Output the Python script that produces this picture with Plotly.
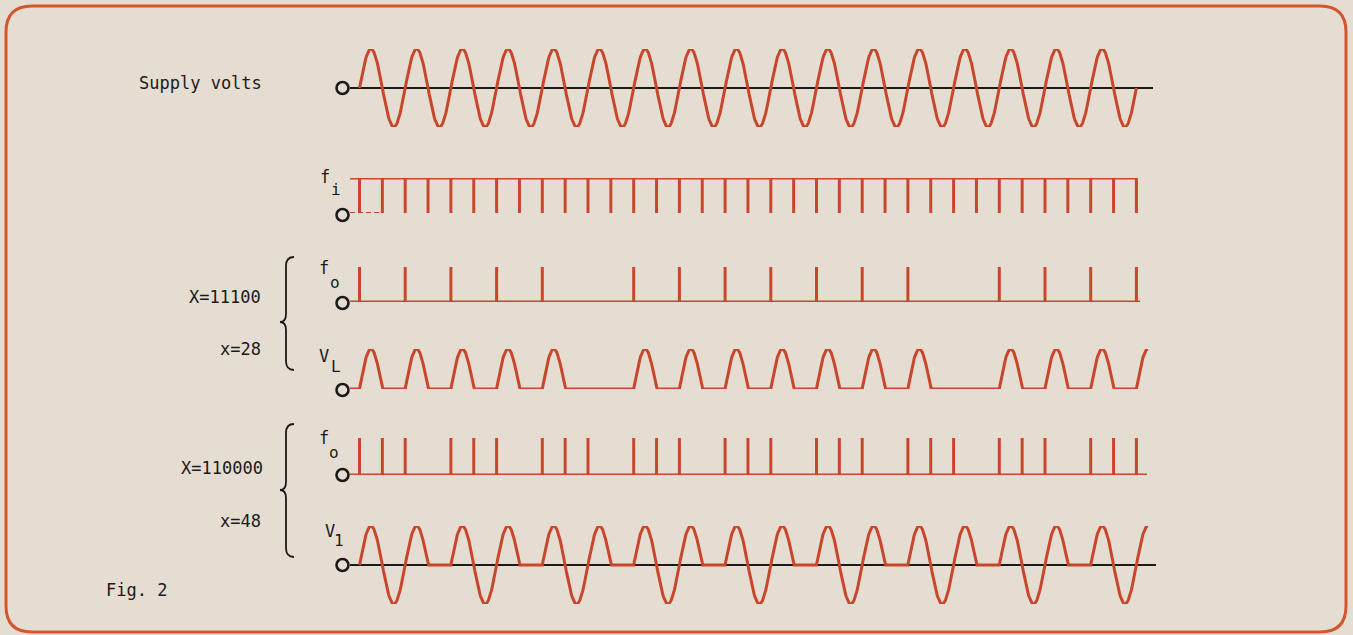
import numpy as np
import plotly.graph_objects as go

W, H = 1353, 635

# ---------------- data ----------------
# one entry per half-cycle of the supply (index 0..33), sign = lobe polarity
supply_lobes = [1, -1, 1, -1, 1, -1, 1, -1, 1, -1, 1, -1, 1, -1, 1, -1, 1,
                -1, 1, -1, 1, -1, 1, -1, 1, -1, 1, -1, 1, -1, 1, -1, 1, -1]
# input pulse train f_i : a pulse at every zero crossing (index 0..34)
fi_pulses = [1, 1, 1, 1, 1, 1, 1, 1, 1, 1, 1, 1, 1, 1, 1, 1, 1, 1,
             1, 1, 1, 1, 1, 1, 1, 1, 1, 1, 1, 1, 1, 1, 1, 1, 1]
# X = 11100, x = 28 : output trigger pulses f_o (per zero crossing)
fo1_pulses = [1, 0, 1, 0, 1, 0, 1, 0, 1, 0, 0, 0, 1, 0, 1, 0, 1, 0, 1, 0, 1,
              0, 1, 0, 1, 0, 0, 0, 1, 0, 1, 0, 1, 0, 1]
# load voltage V_L lobes (index 34 is the partial lobe at the right end)
vl_lobes = [1, 0, 1, 0, 1, 0, 1, 0, 1, 0, 0, 0, 1, 0, 1, 0, 1, 0, 1, 0, 1,
            0, 1, 0, 1, 0, 0, 0, 1, 0, 1, 0, 1, 0, 1]
# X = 110000, x = 48 : output trigger pulses f_o
fo2_pulses = [1, 1, 1, 0, 1, 1, 1, 0, 1, 1, 1, 0, 1, 1, 1, 0, 1, 1, 1, 0, 1,
              1, 1, 0, 1, 1, 1, 0, 1, 1, 1, 0, 1, 1, 1]
# load voltage V_1 lobes
v1_lobes = [1, -1, 1, 0, 1, -1, 1, 0, 1, -1, 1, 0, 1, -1, 1, 0, 1, -1, 1, 0,
            1, -1, 1, 0, 1, -1, 1, 0, 1, -1, 1, 0, 1, -1, 1]

row_labels = ["Supply volts", "X=11100", "x=28", "X=110000", "x=48", "Fig. 2"]
sig_main = ["f", "f", "V", "f", "V"]
sig_sub = ["i", "o", "L", "o", "1"]

# ---------------- style ----------------
RED = "#c8462b"
INK = "#1c1a18"
BG = "#e6ddd2"
BORDER = "#d4562e"
FONT = "DejaVu Sans Mono"

T0_PX, T_PX = 359.5, 22.85          # pixel of t=0, pixels per half-cycle
x_range = [-T0_PX / T_PX, (W - T0_PX) / T_PX]


def tpx(px):
    return (px - T0_PX) / T_PX


def dom(px_bottom, px_top):
    return [1 - px_bottom / H, 1 - px_top / H]


def lobes_xy(lobes, last_partial=False):
    xs, ys = [], []
    s = np.linspace(0, 1, 41)
    for i, a in enumerate(lobes):
        ss = s[:21] if (last_partial and i == len(lobes) - 1) else s
        xs.extend(list(i + ss))
        ys.extend(list(a * np.sin(np.pi * ss)))
    return xs, ys


def pulses_xy(pulses):
    xs, ys = [], []
    for i, p in enumerate(pulses):
        if p:
            xs += [i, i, None]
            ys += [0, 1, None]
    return xs, ys


fig = go.Figure()
LW = 3

# Row 1: supply
sx, sy = lobes_xy(supply_lobes)
fig.add_trace(go.Scatter(x=[tpx(350), tpx(1153)], y=[0, 0], mode="lines",
                         line=dict(color=INK, width=1.8), yaxis="y"))
fig.add_trace(go.Scatter(x=sx, y=sy, mode="lines", line=dict(color=RED, width=LW), yaxis="y"))

# Row 2: f_i
px_, py_ = pulses_xy(fi_pulses)
fig.add_trace(go.Scatter(x=[tpx(350), len(fi_pulses) - 1], y=[1, 1], mode="lines",
                         line=dict(color=RED, width=LW), yaxis="y2"))
fig.add_trace(go.Scatter(x=px_, y=py_, mode="lines", line=dict(color=RED, width=LW), yaxis="y2"))
fig.add_trace(go.Scatter(x=[tpx(350), 1], y=[0, 0], mode="lines",
                         line=dict(color=RED, width=2, dash="5px,3px"), yaxis="y2"))

# Row 3: f_o (X=11100)
px_, py_ = pulses_xy(fo1_pulses)
fig.add_trace(go.Scatter(x=[tpx(350), tpx(1140)], y=[0, 0], mode="lines",
                         line=dict(color=RED, width=LW), yaxis="y3"))
fig.add_trace(go.Scatter(x=px_, y=py_, mode="lines", line=dict(color=RED, width=LW), yaxis="y3"))

# Row 4: V_L
vx, vy = lobes_xy(vl_lobes, last_partial=True)
fig.add_trace(go.Scatter(x=[tpx(350)] + vx, y=[0] + vy, mode="lines",
                         line=dict(color=RED, width=LW), yaxis="y4"))

# Row 5: f_o (X=110000)
px_, py_ = pulses_xy(fo2_pulses)
fig.add_trace(go.Scatter(x=[tpx(350), tpx(1147)], y=[0, 0], mode="lines",
                         line=dict(color=RED, width=LW), yaxis="y5"))
fig.add_trace(go.Scatter(x=px_, y=py_, mode="lines", line=dict(color=RED, width=LW), yaxis="y5"))

# Row 6: V_1
vx, vy = lobes_xy(v1_lobes, last_partial=True)
fig.add_trace(go.Scatter(x=[tpx(350), tpx(1156)], y=[0, 0], mode="lines",
                         line=dict(color=INK, width=1.8), yaxis="y6"))
fig.add_trace(go.Scatter(x=vx, y=vy, mode="lines", line=dict(color=RED, width=LW), yaxis="y6"))

ax_common = dict(visible=False, showgrid=False, zeroline=False, fixedrange=True)
fig.update_layout(
    width=W, height=H,
    margin=dict(l=0, r=0, t=0, b=0),
    paper_bgcolor=BG, plot_bgcolor=BG,
    showlegend=False,
    xaxis=dict(range=x_range, domain=[0, 1], **ax_common),
    yaxis=dict(range=[-1, 1], domain=dom(127, 49), anchor="x", **ax_common),
    yaxis2=dict(range=[0, 1], domain=dom(213, 178), anchor="x", **ax_common),
    yaxis3=dict(range=[0, 1], domain=dom(302, 267), anchor="x", **ax_common),
    yaxis4=dict(range=[0, 1], domain=dom(389, 349), anchor="x", **ax_common),
    yaxis5=dict(range=[0, 1], domain=dom(475, 438), anchor="x", **ax_common),
    yaxis6=dict(range=[-1, 1], domain=dom(604, 526), anchor="x", **ax_common),
)


def P(x, y):
    return x / W, 1 - y / H


shapes = []
# open terminal circles
for cy in [88, 215, 303, 390, 475, 565]:
    x0, y0 = P(336.5, cy + 6)
    x1, y1 = P(348.5, cy - 6)
    shapes.append(dict(type="circle", xref="paper", yref="paper", x0=x0, y0=y0, x1=x1, y1=y1,
                       line=dict(color=INK, width=2.6), fillcolor=BG, layer="above"))


def path_str(pts):
    s = ""
    for cmd, ps in pts:
        s += cmd + " " + " ".join("%.5f,%.5f" % P(*p) for p in ps) + " "
    return s.strip()


def brace(top, mid, bot, xr=294, xv=286, xm=280):
    return path_str([
        ("M", [(xr, top)]),
        ("Q", [(xv, top), (xv, top + 9)]),
        ("L", [(xv, mid - 8)]),
        ("Q", [(xv, mid), (xm, mid)]),
        ("Q", [(xv, mid), (xv, mid + 8)]),
        ("L", [(xv, bot - 9)]),
        ("Q", [(xv, bot), (xr, bot)]),
    ])


for top, mid, bot in [(257, 322, 370), (424, 490, 557)]:
    shapes.append(dict(type="path", xref="paper", yref="paper", path=brace(top, mid, bot),
                       line=dict(color=INK, width=1.8)))


def rrect(x0, y0, x1, y1, r):
    return path_str([("M", [(x0 + r, y0)]), ("L", [(x1 - r, y0)]), ("Q", [(x1, y0), (x1, y0 + r)]),
                     ("L", [(x1, y1 - r)]), ("Q", [(x1, y1), (x1 - r, y1)]), ("L", [(x0 + r, y1)]),
                     ("Q", [(x0, y1), (x0, y1 - r)]), ("L", [(x0, y0 + r)]),
                     ("Q", [(x0, y0), (x0 + r, y0)])]) + " Z"


shapes.append(dict(type="path", xref="paper", yref="paper", path=rrect(6, 6, 1346, 632, 26),
                   line=dict(color=BORDER, width=3)))
fig.update_layout(shapes=shapes)

ann = []
fs = 17


def add_text(txt, x, y, xanchor, size=fs):
    ax_, ay_ = P(x, y)
    ann.append(dict(text=txt, x=ax_, y=ay_, xref="paper", yref="paper", xanchor=xanchor,
                    yanchor="middle", showarrow=False, font=dict(family=FONT, size=size, color=INK)))


left_pos = [(264, 83), (263, 297), (263, 349), (265, 468), (263, 521)]
for txt, (x, y) in zip(row_labels[:5], left_pos):
    add_text(txt, x, y, "right")
add_text(row_labels[5], 104, 590, "left")

main_pos = [(325, 177), (324, 268), (324, 356), (324, 438), (330, 531)]
sub_pos = [(336, 189), (335, 282), (336, 367), (334, 452), (339, 540)]
for m, sb, (mx, my), (sx_, sy_) in zip(sig_main, sig_sub, main_pos, sub_pos):
    add_text(m, mx, my, "center", 17)
    add_text(sb, sx_, sy_, "center", 16)
fig.update_layout(annotations=ann)

fig.write_html("out.html", config={"displayModeBar": False},
               post_script="document.body.style.margin='0px';")
